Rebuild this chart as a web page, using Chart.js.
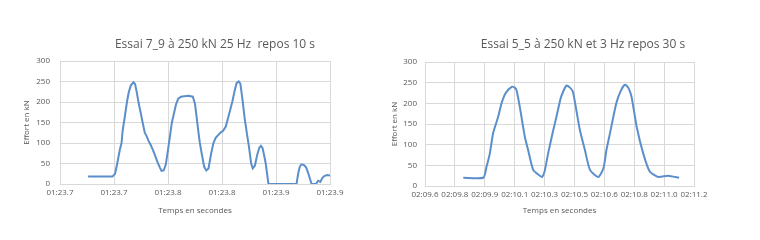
<!DOCTYPE html>
<html>
<head>
<meta charset="utf-8">
<script src="https://cdn.jsdelivr.net/npm/chart.js@4"></script>
<style>
  body { margin: 0; background: #fff; width: 760px; height: 240px; overflow: hidden; position: relative; font-family: "Open Sans", sans-serif; }
  .box { position: absolute; top: 0; width: 380px; height: 240px; }
  .title { position: absolute; top: 35px; font-size: 12px; color: #595959; white-space: pre; transform: translateX(-50%); }
</style>
</head>
<body>
<div class="box" style="left:0"><canvas id="leftChart" width="380" height="240"></canvas></div>
<div class="box" style="left:380px"><canvas id="rightChart" width="380" height="240"></canvas></div>
<div class="title" style="left:215px">Essai 7_9 à 250 kN 25 Hz  repos 10 s</div>
<div class="title" style="left:583px">Essai 5_5 à 250 kN et 3 Hz repos 30 s</div>
<script>
// Essai 7_9 (x in tick-interval units)
const leftTicks = ["01:23.7", "01:23.7", "01:23.8", "01:23.8", "01:23.9", "01:23.9"];
const leftX = [0.52, 0.97, 1.02, 1.06, 1.11, 1.14, 1.16, 1.2, 1.24, 1.27, 1.31, 1.36, 1.39, 1.42, 1.46, 1.5, 1.53, 1.57, 1.6, 1.64, 1.68, 1.72, 1.76, 1.8, 1.85, 1.88, 1.92, 1.96,
  2.0, 2.04, 2.07, 2.11, 2.15, 2.19, 2.24, 2.3, 2.38, 2.46, 2.5, 2.53, 2.56, 2.59, 2.63, 2.67, 2.71, 2.75, 2.8, 2.84, 2.88, 2.92, 2.97,
  3.02, 3.07, 3.11, 3.15, 3.19, 3.23, 3.27, 3.31, 3.34, 3.38, 3.42, 3.46, 3.5, 3.54, 3.57, 3.61, 3.65, 3.69, 3.72, 3.75, 3.78, 3.81, 3.84, 3.86,
  4.38, 4.41, 4.44, 4.47, 4.52, 4.56, 4.6, 4.64, 4.66, 4.74, 4.78, 4.82, 4.86, 4.9, 4.95, 5.0];
const leftY = [18, 18, 25, 50, 85, 100, 130, 164, 200, 222, 240, 248, 244, 225, 195, 170, 150, 125, 118, 105, 95, 83, 70, 55, 40, 32, 33, 48,
  83, 120, 149, 172, 195, 208, 213, 214, 215, 213, 195, 164, 130, 100, 70, 42, 33, 38, 75, 99, 112, 118, 125,
  130, 140, 160, 180, 200, 225, 246, 250, 245, 205, 160, 124, 90, 50, 38, 45, 70, 88, 93, 88, 70, 50, 20, 0,
  0, 25, 42, 48, 46, 40, 25, 8, 0, 0, 8, 5, 15, 20, 22, 21];

// Essai 5_5
const rightTicks = ["02:09.6", "02:09.8", "02:09.9", "02:10.1", "02:10.3", "02:10.5", "02:10.6", "02:10.8", "02:11.0", "02:11.2"];
const rightX = [1.28, 1.95, 2.06, 2.17, 2.28, 2.45, 2.56, 2.7, 2.9, 3.0, 3.06, 3.17, 3.34, 3.45, 3.62, 3.84, 3.92,
  4.0, 4.12, 4.29, 4.4, 4.55, 4.73, 4.85, 4.95, 5.18, 5.35, 5.52, 5.8, 5.97,
  6.07, 6.19, 6.4, 6.55, 6.69, 6.8, 6.91, 7.08, 7.3, 7.52, 7.8, 8.13, 8.5];
const rightY = [20, 20, 47, 79, 128, 168, 200, 225, 240, 238, 232, 192, 119, 87, 39, 25, 22,
  35, 79, 135, 168, 215, 243, 238, 228, 136, 87, 39, 22, 43,
  87, 128, 200, 230, 245, 238, 216, 144, 79, 35, 22, 25, 20];

const yTicks = [0, 50, 100, 150, 200, 250, 300];
const TEXT = "#595959";
const GRID = "#d9d9d9";
const LINE = "#5b8fcc";

function makeChart(id, xs, ys, ticks, opt) {
  const pts = xs.map((x, i) => ({ x: x, y: ys[i] }));
  return new Chart(document.getElementById(id), {
    type: "line",
    data: {
      datasets: [{
        data: pts,
        borderColor: LINE,
        borderWidth: 2,
        pointRadius: 0,
        tension: opt.tension,
        fill: false
      }]
    },
    options: {
      responsive: false,
      animation: false,
      layout: { padding: { left: opt.padLeft, right: opt.padRight, top: opt.padTop, bottom: 22 } },
      plugins: { legend: { display: false }, tooltip: { enabled: false } },
      scales: {
        x: {
          type: "linear",
          min: 0,
          max: ticks.length - 1,
          afterBuildTicks: (s) => { s.ticks = ticks.map((t, i) => ({ value: i })); },
          afterFit: (s) => { s.height = opt.xHeight; },
          grid: { color: GRID, drawTicks: false },
          border: { color: GRID },
          ticks: {
            padding: 4,
            maxRotation: 0,
            autoSkip: false,
            color: TEXT,
            font: { size: 8, family: "Open Sans" },
            callback: (v, i) => ticks[i]
          },
          title: { display: true, text: "Temps en secondes", color: TEXT, font: { size: 8, family: "Open Sans" }, padding: 2 }
        },
        y: {
          min: 0,
          max: 300,
          afterBuildTicks: (s) => { s.ticks = yTicks.map(v => ({ value: v })); },
          afterFit: (s) => { s.width = opt.yWidth; },
          grid: { color: GRID, drawTicks: false },
          border: { display: false },
          ticks: { padding: opt.yPad, color: TEXT, font: { size: 8, family: "Open Sans" } },
          title: { display: true, text: "Effort en kN", color: TEXT, font: { size: 8, family: "Open Sans" }, padding: 2 }
        }
      }
    }
  });
}

makeChart("leftChart", leftX, leftY, leftTicks, { padLeft: 20, padRight: 50, padTop: 61, xHeight: 34, yWidth: 40, yPad: 10, tension: 0 });
makeChart("rightChart", rightX, rightY, rightTicks, { padLeft: 8, padRight: 66, padTop: 62, xHeight: 32, yWidth: 37, yPad: 8, tension: 0.2 });
</script>
</body>
</html>
